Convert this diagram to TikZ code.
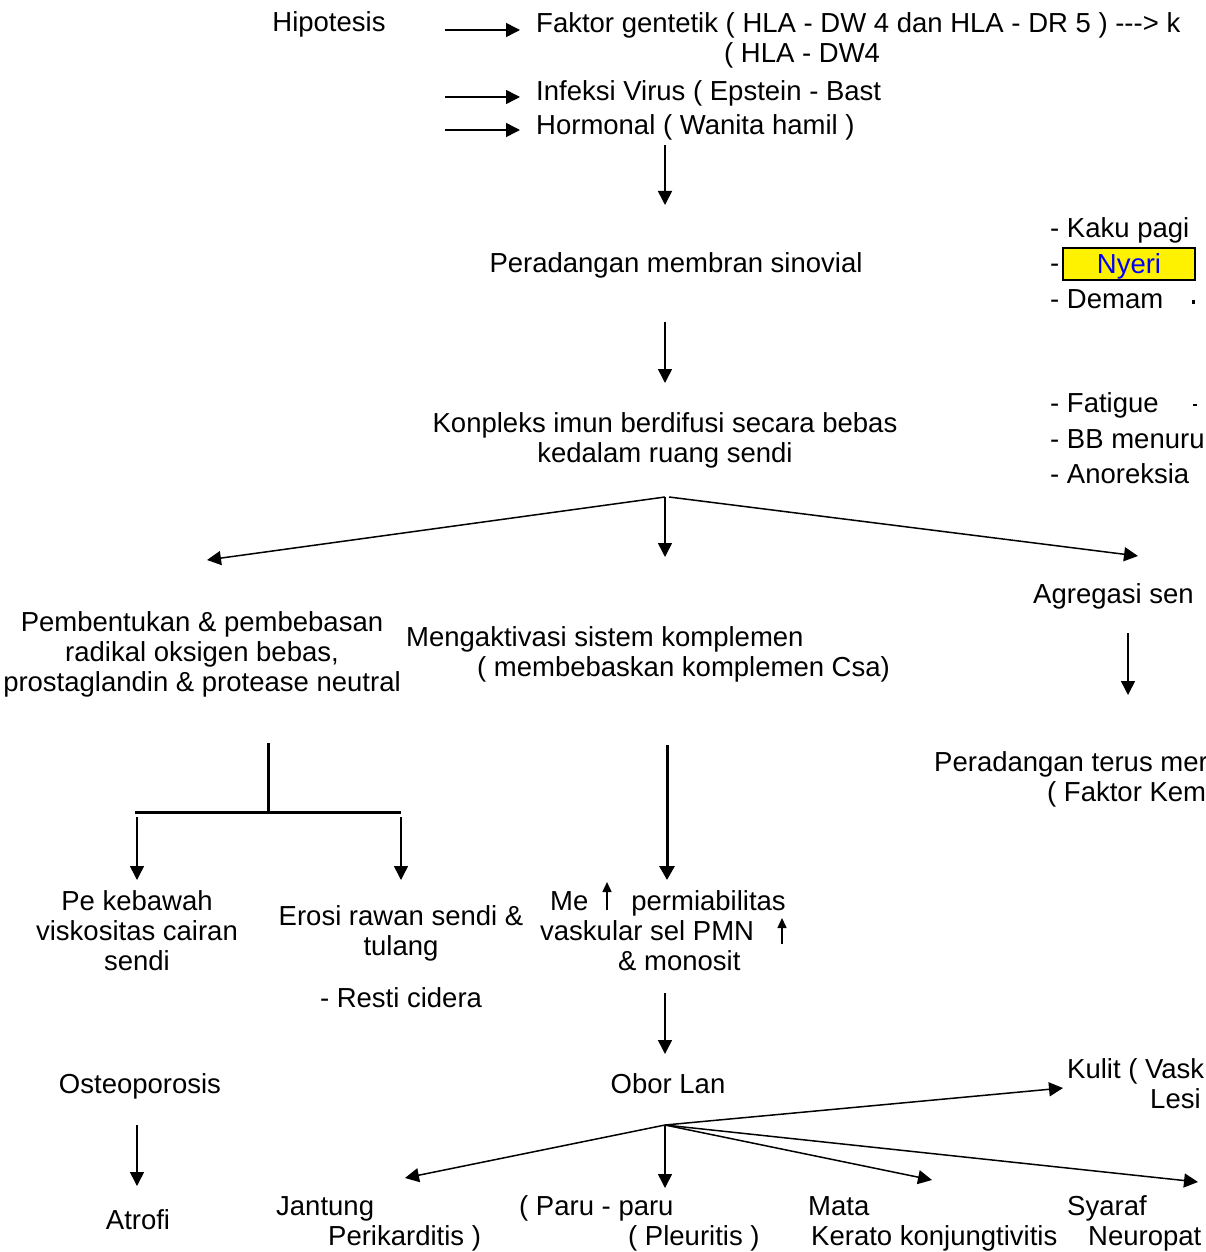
\documentclass[tikz,border=0pt]{standalone}
\usepackage{fontspec}
\setmainfont{Liberation Sans}
\usetikzlibrary{arrows.meta,positioning}

\tikzset{
  txt/.style={inner sep=0pt, font=\fontsize{27.5}{30}\selectfont},
  arr/.style={-{Triangle[length=14pt,width=14pt]}, line width=1.5pt},
  tarr/.style={-{Triangle[length=14pt,width=15pt]}, line width=3pt},
  uarr/.style={-{Triangle[length=10pt,width=9pt]}, line width=1.5pt},
}

\begin{document}
\begin{tikzpicture}[x=1pt,y=-1pt]
\useasboundingbox (0,0) rectangle (1205,1252);
\clip (0,0) rectangle (1205,1252);

% hipotesis
\node [txt, anchor=base] (hip) at (329,31.5) {Hipotesis};
\node [txt, anchor=base west, align=left] (fak) at (536,62.5) {Faktor gentetik ( HLA - DW 4 dan HLA - DR 5 ) -{}-{}-> k\\\hspace*{188pt}( HLA - DW4};
\node [txt, anchor=base west] (inf) at (536,100.5) {Infeksi Virus ( Epstein - Bast};
\node [txt, anchor=base west] (hor) at (536,134.5) {Hormonal ( Wanita hamil )};
\coordinate (a1) at (445,30);
\coordinate (a2) at (445,97);
\coordinate (a3) at (445,130);
\draw[arr, shorten >=16pt] (a1) -- (a1 -| fak.west);
\draw[arr, shorten >=16pt] (a2) -- (a2 -| inf.west);
\draw[arr, shorten >=16pt] (a3) -- (a3 -| hor.west);

\node [txt, anchor=base] (sin) at (676,272.5) {Peradangan membran sinovial};
\coordinate (d1a) at (665,145);
\coordinate (d1b) at (665,205);
\draw[arr] (d1a) -- (d1b);

% gejala
\node [txt, anchor=base west] (kak) at (1050,237) {- Kaku pagi};
\node [txt, anchor=base west] (dsh) at (1050,272.5) {-};
\node [txt, draw, fill=yellow, line width=2.5pt, text=blue, minimum width=132pt, minimum height=32pt, text height=19pt, text depth=0pt] (nye) at (1129,264) {Nyeri};
\node [txt, anchor=base west] (dem) at (1050,308.5) {- Demam};
\node [txt, anchor=base west] (fat) at (1050,412.5) {- Fatigue};
\node [txt, anchor=base west] (bbm) at (1050,448.5) {- BB menuru};
\node [txt, anchor=base west] (ano) at (1050,483.5) {- Anoreksia};
\fill (1192,300) rectangle (1195,304);
\fill (1193,404) rectangle (1197,406);

\node [txt, anchor=base, align=center] (kon) at (665,462.5) {Konpleks imun berdifusi secara bebas\\kedalam ruang sendi};
\coordinate (d2a) at (665,322);
\coordinate (d2b) at (665,383);
\draw[arr] (d2a) -- (d2b);

% tiga cabang
\coordinate (k0) at (665,497);
\coordinate (k0r) at (669,497);
\coordinate (k1) at (207,560);
\coordinate (k2) at (665,557);
\coordinate (k3) at (1138,556);
\draw[arr] (k0) -- (k1);
\draw[arr] (k0) -- (k2);
\draw[arr] (k0r) -- (k3);

\node [txt, anchor=base, align=center] (pem) at (202,691.5) {Pembentukan \& pembebasan\\radikal oksigen bebas,\\prostaglandin \& protease neutral};
\node [txt, anchor=base west, align=left] (men) at (406,676.5) {Mengaktivasi sistem komplemen\\\hspace*{71pt}( membebaskan komplemen Csa)};
\node [txt, anchor=base west] (agr) at (1033,603.5) {Agregasi sen};
\node [txt, anchor=base west, align=left] (per) at (934,801.5) {Peradangan terus mer\\\hspace*{113pt}( Faktor Kem};
\coordinate (g1) at (1128,633);
\coordinate (g2) at (1128,695);
\draw[arr] (g1) -- (g2);

% percabangan kiri
\coordinate (t0) at (268,743);
\coordinate (t1) at (268,812);
\coordinate (tl) at (135,812);
\coordinate (tr) at (401,812);
\draw[line width=3pt] (t0) -- (t1);
\draw[line width=3pt] (tl) -- (tr);
\coordinate (l1a) at (137,817);
\coordinate (l1b) at (137,880);
\coordinate (l2a) at (401,817);
\coordinate (l2b) at (401,880);
\draw[arr] (l1a) -- (l1b);
\draw[arr] (l2a) -- (l2b);
\coordinate (m1a) at (667,745);
\coordinate (m1b) at (667,880);
\draw[tarr] (m1a) -- (m1b);

\node [txt, anchor=base, align=center] (pek) at (137,970.5) {Pe kebawah\\viskositas cairan\\sendi};
\node [txt, anchor=base, align=center] (ero) at (401,955.5) {Erosi rawan sendi \&\\tulang};
\node [txt, anchor=base] (res) at (401,1007.5) {- Resti cidera};
\node [txt, anchor=base west, align=left] (vas) at (540,970.5) {\hspace*{10pt}Me\hspace*{43pt}permiabilitas\\vaskular sel PMN\\\hspace*{78pt}\& monosit};
\coordinate (u1a) at (607,910);
\coordinate (u1b) at (607,882);
\coordinate (u2a) at (782,944);
\coordinate (u2b) at (782,918);
\draw[uarr] (u1a) -- (u1b);
\draw[uarr] (u2a) -- (u2b);

\node [txt, anchor=base] (ost) at (140,1093.5) {Osteoporosis};
\node [txt, anchor=base] (atr) at (138,1229.5) {Atrofi};
\coordinate (o1a) at (137,1125);
\coordinate (o1b) at (137,1186);
\draw[arr] (o1a) -- (o1b);

\node [txt, anchor=base] (obo) at (668,1093.5) {Obor Lan};
\coordinate (d3a) at (665,993);
\coordinate (d3b) at (665,1054);
\draw[arr] (d3a) -- (d3b);

% organ
\node [txt, anchor=base west, align=left] (kul) at (1067,1108.5) {Kulit ( Vask\\\hspace*{83pt}Lesi};
\node [txt, anchor=base west, align=left] (jan) at (276,1245.5) {Jantung\\\hspace*{52pt}Perikarditis )};
\node [txt, anchor=base west, align=left] (par) at (519,1245.5) {( Paru - paru\\\hspace*{109pt}( Pleuritis )};
\node [txt, anchor=base west, align=left] (mat) at (808,1245.5) {Mata\\\hspace*{3pt}Kerato konjungtivitis};
\node [txt, anchor=base west, align=left] (sya) at (1067,1245.5) {Syaraf\\\hspace*{21pt}Neuropat};
\coordinate (b0) at (665,1125);
\coordinate (b1) at (1063,1088);
\coordinate (b2) at (405,1178);
\coordinate (b3) at (665,1188);
\coordinate (b4) at (932,1180);
\coordinate (b5) at (1198,1182);
\draw[arr] (b0) -- (b1);
\draw[arr] (b0) -- (b2);
\draw[arr] (b0) -- (b3);
\draw[arr] (b0) -- (b4);
\draw[arr] (b0) -- (b5);
\end{tikzpicture}
\end{document}
